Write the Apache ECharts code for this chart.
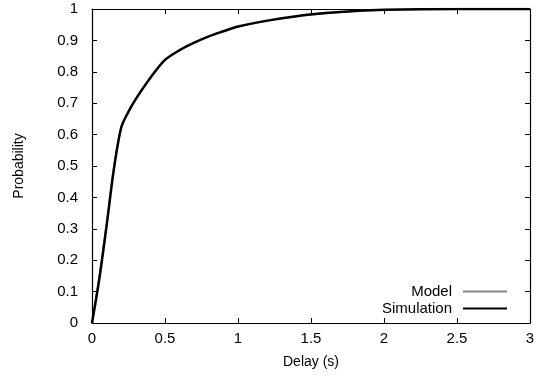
<!DOCTYPE html>
<html>
<head>
<meta charset="utf-8">
<script src="https://cdn.jsdelivr.net/npm/echarts@6/dist/echarts.min.js"></script>
<style>html,body{margin:0;padding:0;background:#fff;}#c{width:544px;height:380px;}</style>
</head>
<body>
<div id="c"></div>
<script>
var delays = [0, 0.05, 0.1, 0.15, 0.2, 0.25, 0.3, 0.4, 0.5, 0.6, 0.7, 0.8, 0.9, 1.0, 1.2, 1.4, 1.6, 1.8, 2.0, 2.5, 3.0];
var modelProb = [0, 0.15, 0.32, 0.50, 0.625, 0.675, 0.715, 0.78, 0.837, 0.868, 0.892, 0.912, 0.928, 0.943, 0.962, 0.976, 0.986, 0.993, 0.997, 1.0, 1.0];
var simProb   = [0, 0.14, 0.31, 0.49, 0.622, 0.673, 0.713, 0.781, 0.838, 0.869, 0.893, 0.913, 0.929, 0.944, 0.963, 0.977, 0.987, 0.994, 0.998, 1.0, 1.0];
var xTicks = [0, 0.5, 1, 1.5, 2, 2.5, 3];
var yTicks = [0, 0.1, 0.2, 0.3, 0.4, 0.5, 0.6, 0.7, 0.8, 0.9, 1];

function pairs(xs, ys) { return xs.map(function (x, i) { return [x, ys[i]]; }); }

var font = 'Liberation Sans, Arial, sans-serif';
var chart = echarts.init(document.getElementById('c'));
var axisLineStyle = { color: '#000', width: 1.2 };
chart.setOption({
  animation: false,
  backgroundColor: '#fff',
  textStyle: { fontFamily: font },
  grid: { left: 92, right: 14, top: 9, bottom: 57, show: false },
  legend: [
    {
      data: ['Model'], right: 32, bottom: 76, orient: 'vertical', align: 'right',
      itemWidth: 44, itemHeight: 2, itemGap: 4,
      textStyle: { fontFamily: font, fontSize: 15, color: '#000', padding: [0, 6, 0, 0] },
      icon: 'rect'
    },
    {
      data: ['Simulation'], right: 32, bottom: 59, orient: 'vertical', align: 'right',
      itemWidth: 44, itemHeight: 2, itemGap: 4,
      textStyle: { fontFamily: font, fontSize: 15, color: '#000', padding: [0, 6, 0, 0] },
      icon: 'rect'
    }
  ],
  xAxis: [
    {
      type: 'value', min: 0, max: 3, interval: 0.5,
      name: 'Delay (s)', nameLocation: 'middle', nameGap: 32,
      nameTextStyle: { fontFamily: font, fontSize: 14, color: '#000' },
      axisLine: { show: true, onZero: false, lineStyle: axisLineStyle },
      axisTick: { show: true, inside: true, length: 5, lineStyle: { color: '#000' } },
      axisLabel: { fontFamily: font, fontSize: 15, color: '#000', margin: 8,
        formatter: function (v) { return xTicks.indexOf(v) >= 0 ? String(v) : ''; } },
      splitLine: { show: false }
    },
    {
      type: 'value', min: 0, max: 3, interval: 0.5, position: 'top',
      axisLine: { show: true, onZero: false, lineStyle: axisLineStyle },
      axisTick: { show: true, inside: true, length: 5, lineStyle: { color: '#000' } },
      axisLabel: { show: false }, splitLine: { show: false }
    }
  ],
  yAxis: [
    {
      type: 'value', min: 0, max: 1, interval: 0.1,
      name: 'Probability', nameLocation: 'middle', nameGap: 66, nameRotate: 90,
      nameTextStyle: { fontFamily: font, fontSize: 14, color: '#000' },
      axisLine: { show: true, onZero: false, lineStyle: axisLineStyle },
      axisTick: { show: true, inside: true, length: 5, lineStyle: { color: '#000' } },
      axisLabel: { fontFamily: font, fontSize: 15, color: '#000', margin: 14,
        formatter: function (v) { var r = Math.round(v * 10) / 10; return yTicks.indexOf(r) >= 0 ? String(r) : ''; } },
      splitLine: { show: false }
    },
    {
      type: 'value', min: 0, max: 1, interval: 0.1, position: 'right',
      axisLine: { show: true, onZero: false, lineStyle: axisLineStyle },
      axisTick: { show: true, inside: true, length: 5, lineStyle: { color: '#000' } },
      axisLabel: { show: false }, splitLine: { show: false }
    }
  ],
  series: [
    {
      name: 'Model', type: 'line', data: pairs(delays, modelProb), smooth: 0.3,
      showSymbol: false, symbol: 'none',
      lineStyle: { color: '#888', width: 1.5 }, itemStyle: { color: '#888' }
    },
    {
      name: 'Simulation', type: 'line', data: pairs(delays, simProb), smooth: 0.3,
      showSymbol: false, symbol: 'none',
      lineStyle: { color: '#000', width: 2.5 }, itemStyle: { color: '#000' }
    }
  ]
});
</script>
</body>
</html>
